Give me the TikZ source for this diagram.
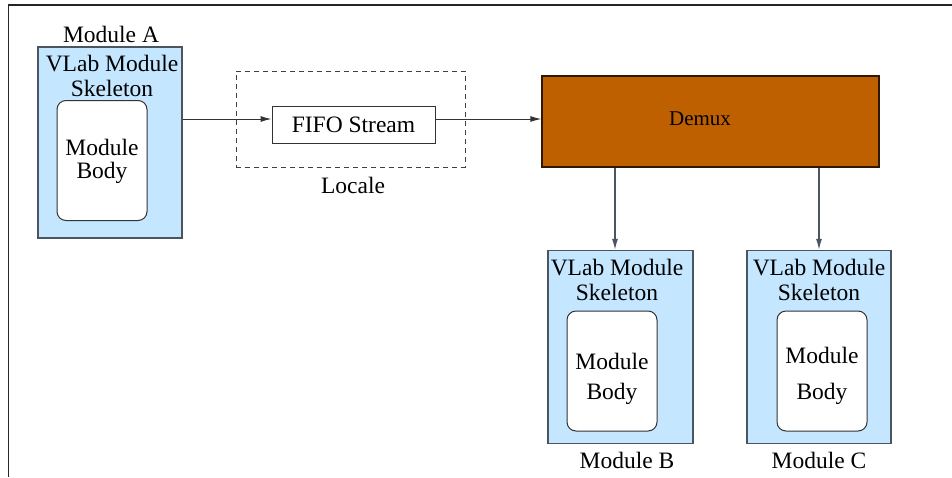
\documentclass[tikz,border=0pt]{standalone}
\usepackage{fontspec}
\setmainfont{Liberation Serif}
\usetikzlibrary{arrows.meta}
\definecolor{skelfill}{HTML}{C4E6FF}
\definecolor{skeldraw}{HTML}{4A5560}
\definecolor{demuxfill}{HTML}{BF6000}
\definecolor{demuxdraw}{HTML}{2E1800}
\definecolor{arrowgray}{HTML}{4A5560}
\tikzset{
  txt/.style={inner sep=0pt, align=center, font=\fontsize{23.5}{23}\selectfont},
  skel/.style={draw=skeldraw, fill=skelfill, line width=1.3pt, minimum width=#1, minimum height=193pt, inner sep=0pt},
  bodybox/.style={draw=black!80, fill=white, line width=1pt, rounded corners=9pt, minimum width=90pt, minimum height=120pt, inner sep=0pt},
  fifo/.style={draw=black!80, fill=white, line width=1pt, minimum width=163pt, minimum height=37pt, inner sep=0pt, font=\fontsize{23.5}{23}\selectfont},
  locale/.style={draw=black!75, dashed, dash pattern=on 5pt off 4pt, line width=1pt, minimum width=229pt, minimum height=96pt, inner sep=0pt},
  demux/.style={draw=demuxdraw, fill=demuxfill, line width=1.3pt, minimum width=337pt, minimum height=91pt, inner sep=0pt},
  flow/.style={-{Latex[length=11pt,width=6pt]}, line width=1pt, draw=black!80},
  flowdown/.style={-{Latex[length=11pt,width=6pt]}, line width=1.3pt, draw=arrowgray},
  frame/.style={line width=1.5pt, draw=black!85}
}
\begin{document}
\begin{tikzpicture}[x=1pt,y=1pt]
\useasboundingbox (0,0) rectangle (952,-477);
% frame
\draw[frame] (8.5,-477) -- (8.5,-5) -- (952,-5);

% Module A
\node[skel=144pt, minimum height=191pt] (skelA) at (110,-142.5) {};
\node[bodybox] (bodyA) at (102,-160.5) {};
\node[txt] (skeltxtA) at (112,-76) {VLab Module\\[2pt]Skeleton};
\node[txt] (bodytxtA) at (102,-161) {Module\\Body};
\node[txt] (labA) at (111,-34) {Module A};

% Locale and FIFO
\node[locale] (locale) at (350.5,-119) {};
\node[fifo] (fifo) at (353.5,-125) {FIFO Stream};
\node[txt] (loclab) at (353,-185) {Locale};

% Demux
\node[demux] (demux) at (710.5,-121.5) {};
\node[inner sep=0pt, font=\fontsize{21}{21}\selectfont] (demuxtxt) at (700,-119) {Demux};

% Module B
\node[skel=145pt] (skelB) at (620.5,-347) {};
\node[bodybox] (bodyB) at (612,-371) {};
\node[txt] (skeltxtB) at (617,-280) {VLab Module\\[2pt]Skeleton};
\node[txt] (bodytxtB) at (612,-379) {Module\\[7pt]Body};
\node[txt] (labB) at (627,-460) {Module B};

% Module C
\node[skel=144pt] (skelC) at (819,-347) {};
\node[bodybox] (bodyC) at (822,-371) {};
\node[txt] (skeltxtC) at (819,-280) {VLab Module\\[2pt]Skeleton};
\node[txt] (bodytxtC) at (822,-376) {Module\\[13pt]Body};
\node[txt] (labC) at (819,-460) {Module C};

% connectors
\draw[flow] (skelA.east |- 0,-119) -- (fifo.west |- 0,-119);
\draw[flow] (fifo.east |- 0,-119) -- (demux.west |- 0,-119);
\draw[flowdown] (demux.south -| skelB.north -| 615,0) -- (skelB.north -| 615,0);
\draw[flowdown] (demux.south -| 819,0) -- (skelC.north -| 819,0);
\end{tikzpicture}
\end{document}
